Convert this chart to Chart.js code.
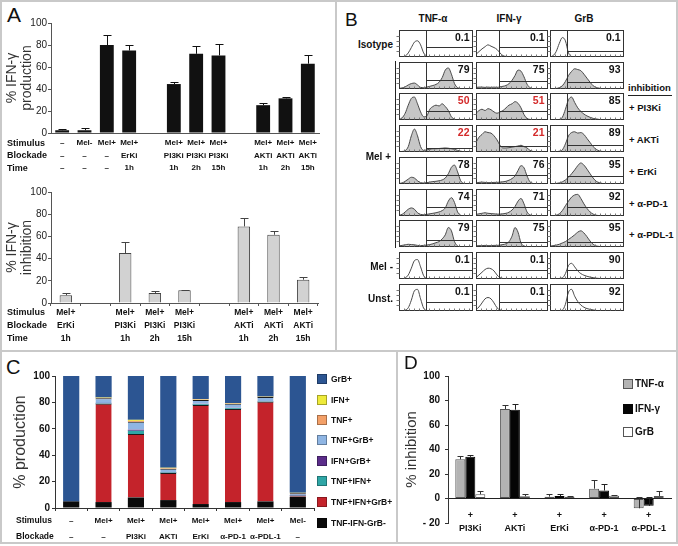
<!DOCTYPE html>
<html><head><meta charset="utf-8">
<script src="https://cdn.jsdelivr.net/npm/chart.js@4.4.1/dist/chart.umd.min.js"></script>
<style>
html,body{margin:0;padding:0;background:#fff}
#root{position:relative;width:678px;height:546px;overflow:hidden;font-family:"Liberation Sans",Arial,sans-serif;color:#111}
canvas{position:absolute}
.t{position:absolute;white-space:nowrap;line-height:1}
.ln{position:absolute}
.box{position:absolute;box-sizing:border-box}
</style></head><body><div id="root"></div>
<script>
// ================= DATA =================
// Panel A (top) – % IFN-γ production
const aTopStimulus = ['–','Mel-','Mel+','Mel+','','Mel+','Mel+','Mel+','','Mel+','Mel+','Mel+'];
const aTopBlockade = ['–','–','–','ErKi','','PI3Ki','PI3Ki','PI3Ki','','AKTi','AKTi','AKTi'];
const aTopTime     = ['–','–','–','1h','','1h','2h','15h','','1h','2h','15h'];
const aTopValues   = [2.5,2.5,80,75,null,44.5,72,70.5,null,25.3,31.5,63];
const aTopErrors   = [1.5,2,9,5,null,1.8,7,10.5,null,1.8,1.5,8];
// Panel A (bottom) – % IFN-γ inhibition
const aBotStimulus = ['Mel+','','Mel+','Mel+','Mel+','','Mel+','Mel+','Mel+'];
const aBotBlockade = ['ErKi','','PI3Ki','PI3Ki','PI3Ki','','AKTi','AKTi','AKTi'];
const aBotTime     = ['1h','','1h','2h','15h','','1h','2h','15h'];
const aBotValues   = [7,null,45,9,11.4,null,69,61.5,21];
const aBotErrors   = [1.8,null,10,1.5,0.6,null,8,3.5,2];

// Panel B – flow histograms (rows x [TNF-α, IFN-γ, GrB])
const bColumns = ['TNF-α','IFN-γ','GrB'];
const bRowLabels = ['Isotype','','','','','','','Mel -','Unst.'];
const bInhibitors = ['+ PI3Ki','+ AKTi','+ ErKi','+ α-PD-1','+ α-PDL-1'];
const bPercent = [
 ['0.1','0.1','0.1'],['79','75','93'],['50','51','85'],['22','21','89'],['78','76','95'],
 ['74','71','92'],['79','75','95'],['0.1','0.1','90'],['0.1','0.1','92']];
const bGates = [0.36,0.32,0.23];
const bLevels = [[0.37,0.37,0.22],[0.32,0.28,0.26],[0.34,0.34,0.34],[0.15,0.21,0.27],[0.35,0.35,0.3],
 [0.35,0.32,0.32],[0.27,0.2,0.2],[0.33,0.33,0.33],[0.33,0.33,0.33]];
const bBins = ['0','1','2','3','4','5','6','7','8','9','10','11','12','13','14','15','16','17','18','19','20','21','22','23','24'];
const bHist = [
 [[0,0,0.03,0.15,0.35,0.55,0.6,0.45,0.15,0.03,0,0,0,0,0,0,0,0,0,0,0,0,0,0,0],
  [0.1,0.2,0.3,0.38,0.45,0.4,0.35,0.28,0.15,0.05,0.02,0,0,0,0,0,0,0,0,0,0,0,0,0,0],
  [0,0.05,0.2,0.5,0.72,0.6,0.15,0.02,0,0,0,0,0,0,0,0,0,0,0,0,0,0,0,0,0]],
 [[0.02,0.04,0.08,0.15,0.2,0.22,0.15,0.06,0.05,0.07,0.1,0.13,0.17,0.25,0.42,0.7,0.78,0.55,0.2,0.05,0.01,0,0,0,0],
  [0.06,0.07,0.07,0.06,0.07,0.06,0.07,0.06,0.08,0.1,0.13,0.2,0.32,0.5,0.7,0.66,0.45,0.18,0.05,0.01,0,0,0,0,0],
  [0,0.01,0.02,0.05,0.12,0.28,0.5,0.65,0.75,0.72,0.68,0.55,0.4,0.25,0.12,0.06,0.03,0.01,0,0,0,0,0,0,0]],
 [[0.02,0.08,0.25,0.55,0.8,0.85,0.6,0.3,0.12,0.15,0.4,0.5,0.55,0.52,0.6,0.5,0.35,0.12,0.03,0,0,0,0,0,0],
  [0.25,0.35,0.4,0.35,0.42,0.38,0.3,0.25,0.3,0.35,0.45,0.55,0.6,0.68,0.62,0.45,0.2,0.06,0.02,0,0,0,0,0,0],
  [0,0,0,0.02,0.1,0.4,0.75,0.85,0.65,0.45,0.32,0.22,0.15,0.1,0.06,0.04,0.02,0.01,0,0,0,0,0,0,0]],
 [[0.01,0.02,0.05,0.2,0.6,0.85,0.6,0.2,0.06,0.08,0.1,0.12,0.12,0.13,0.14,0.15,0.14,0.12,0.1,0.06,0.03,0.01,0,0,0],
  [0.35,0.55,0.65,0.75,0.72,0.7,0.6,0.45,0.25,0.15,0.15,0.16,0.18,0.2,0.22,0.25,0.2,0.15,0.06,0.02,0,0,0,0,0],
  [0,0,0.01,0.03,0.08,0.3,0.6,0.72,0.75,0.7,0.72,0.65,0.5,0.35,0.2,0.1,0.04,0.02,0.01,0,0,0,0,0,0]],
 [[0.02,0.04,0.1,0.18,0.25,0.22,0.12,0.05,0.04,0.05,0.07,0.09,0.1,0.12,0.15,0.22,0.38,0.62,0.7,0.45,0.12,0.02,0,0,0],
  [0.04,0.06,0.07,0.06,0.05,0.05,0.06,0.06,0.07,0.08,0.1,0.14,0.2,0.3,0.5,0.68,0.6,0.3,0.08,0.02,0,0,0,0,0],
  [0,0.01,0.02,0.04,0.08,0.15,0.25,0.38,0.52,0.68,0.78,0.7,0.55,0.38,0.22,0.1,0.05,0.02,0.01,0,0,0,0,0,0]],
 [[0.03,0.06,0.15,0.25,0.3,0.25,0.12,0.06,0.05,0.06,0.08,0.1,0.12,0.15,0.2,0.3,0.55,0.68,0.5,0.15,0.03,0,0,0,0],
  [0.06,0.08,0.1,0.12,0.1,0.09,0.08,0.07,0.07,0.08,0.1,0.14,0.22,0.35,0.55,0.65,0.45,0.15,0.04,0.01,0,0,0,0,0],
  [0,0.01,0.03,0.08,0.2,0.38,0.55,0.7,0.78,0.8,0.65,0.45,0.28,0.15,0.07,0.03,0.01,0,0,0,0,0,0,0,0]],
 [[0.04,0.06,0.08,0.1,0.09,0.08,0.06,0.05,0.06,0.07,0.09,0.12,0.16,0.2,0.3,0.45,0.72,0.6,0.2,0.04,0,0,0,0,0],
  [0.04,0.05,0.05,0.06,0.05,0.05,0.06,0.06,0.07,0.09,0.12,0.2,0.4,0.72,0.55,0.15,0.04,0.01,0,0,0,0,0,0,0],
  [0.03,0.05,0.07,0.1,0.15,0.2,0.28,0.36,0.45,0.55,0.6,0.52,0.38,0.22,0.1,0.04,0.02,0,0,0,0,0,0,0,0]],
 [[0,0.01,0.04,0.15,0.4,0.68,0.72,0.45,0.12,0.02,0,0,0,0,0,0,0,0,0,0,0,0,0,0,0],
  [0.05,0.15,0.25,0.35,0.4,0.38,0.3,0.15,0.05,0.02,0,0,0,0,0,0,0,0,0,0,0,0,0,0,0],
  [0,0,0.01,0.02,0.04,0.2,0.5,0.58,0.45,0.3,0.2,0.14,0.1,0.07,0.05,0.03,0.02,0.01,0,0,0,0,0,0,0]],
 [[0,0.01,0.03,0.12,0.4,0.75,0.8,0.45,0.1,0.02,0,0,0,0,0,0,0,0,0,0,0,0,0,0,0],
  [0.05,0.15,0.3,0.45,0.5,0.45,0.3,0.12,0.04,0.01,0,0,0,0,0,0,0,0,0,0,0,0,0,0,0],
  [0,0,0,0.01,0.03,0.25,0.7,0.8,0.55,0.35,0.22,0.14,0.09,0.06,0.04,0.02,0.01,0,0,0,0,0,0,0,0]]];
const bFilledRows = [1,2,3,4,5,6];
const bRedCells = ['2-0','2-1','3-0','3-1'];

// Panel C – % production (stacked)
const cStimulus = ['–','Mel+','Mel+','Mel+','Mel+','Mel+','Mel+','Mel-'];
const cBlockade = ['–','–','PI3Ki','AKTi','ErKi','α-PD-1','α-PDL-1','–'];
const cNeg     = [5,4.5,8,6,3,4.5,5,8.5];          // TNF-IFN-GrB-
const cTriple  = [0,74.5,48,20.5,75,70.5,75.5,0.7]; // TNF+IFN+GrB+
const cTnfIfn  = [0,0.3,2.5,0.4,0.6,0.6,0.3,0.2];   // TNF+IFN+
const cIfnGrb  = [0,0.3,0.8,0.3,0.3,0.3,0.2,0.5];   // IFN+GrB+
const cTnfGrb  = [0,3.5,6,2.5,3,3,3,1.2];           // TNF+GrB+
const cTnf     = [0,0.3,0.7,0.4,0.3,0.3,0.2,0.2];   // TNF+
const cIfn     = [0,0.3,0.8,0.4,0.3,0.3,0.2,0.2];   // IFN+
const cGrb     = [95,16.3,33.2,69.5,17.5,20.5,15.6,88.5]; // GrB+

// Panel D – % inhibition
const dPlus = ['+','+','+','+','+'];
const dInhibitor = ['PI3Ki','AKTi','ErKi','α-PD-1','α-PDL-1'];
const dTnf = [32,73,1.5,8,-8];       const dTnfErr = [2.5,3.5,2.5,7.5,9.5];
const dIfn = [34,72.5,2,6.5,-6];     const dIfnErr = [1.5,5,1.3,5.5,7.5];
const dGrb = [3.5,1.8,1.5,2.2,2];    const dGrbErr = [3,1.5,0.5,0.5,4];

// ================= SETUP =================
const FONT='"Liberation Sans", Arial, sans-serif';
Chart.defaults.font.family=FONT;
Chart.defaults.color='#111';
Chart.defaults.animation=false;
Chart.defaults.responsive=false;
Chart.defaults.devicePixelRatio=1;
Chart.defaults.plugins.legend.display=false;
Chart.defaults.plugins.tooltip.enabled=false;

const root=document.getElementById('root');
function mkCanvas(x,y,w,h){const c=document.createElement('canvas');c.width=w;c.height=h;
 Object.assign(c.style,{left:x+'px',top:y+'px',width:w+'px',height:h+'px'});root.appendChild(c);return c;}
function rect(x,y,w,h,color){const d=document.createElement('div');d.className='ln';
 Object.assign(d.style,{left:x+'px',top:y+'px',width:w+'px',height:h+'px',background:color||'#c9c9c9'});root.appendChild(d);return d;}
function txt(x,y,s,o={}){const d=document.createElement('div');d.className='t';d.textContent=s;
 const al=o.align||'left';
 Object.assign(d.style,{left:x+'px',top:y+'px',fontSize:(o.size||10)+'px',fontWeight:o.weight||'bold',color:o.color||'#111',
  transform:`translate(${al==='left'?'0':al==='right'?'-100%':'-50%'},-50%)`});root.appendChild(d);return d;}

const errorBars={id:'errorBars',afterDatasetsDraw(chart,args,o){
 const ctx=chart.ctx;
 chart.data.datasets.forEach((ds,di)=>{
  if(!ds.errors)return;
  const meta=chart.getDatasetMeta(di); const ys=chart.scales[meta.yAxisID];
  meta.data.forEach((bar,i)=>{
   const v=ds.data[i],e=ds.errors[i]; if(v==null||e==null)return;
   const x=Math.round(bar.x)+0.5, y0=ys.getPixelForValue(v), y1=Math.round(ys.getPixelForValue(v+e))+0.5;
   const cw=o.cap||3;
   ctx.save();ctx.strokeStyle=ds.errorColor||'#111';ctx.lineWidth=1;ctx.beginPath();
   ctx.moveTo(x,y0);ctx.lineTo(x,y1);ctx.moveTo(x-cw,y1);ctx.lineTo(x+cw,y1);ctx.stroke();ctx.restore();
  });
 });
}};
const rowLabels={id:'rowLabels',afterDraw(chart,args,o){
 if(!o.rows)return;
 const xs=chart.scales.x,g=xs.options.grid,t=xs.options.ticks;
 const y0=xs.top+(g.drawTicks?g.tickLength:0)+t.padding;
 const ctx=chart.ctx;ctx.save();ctx.font=`bold ${o.size}px ${FONT}`;ctx.fillStyle='#111';
 ctx.textAlign='left';ctx.textBaseline='middle';
 o.rows.forEach((r,i)=>ctx.fillText(r,o.x,y0+o.lh*(i+0.5)));ctx.restore();
}};

// ================= FRAMES =================
rect(0,0,678,2);rect(0,542,678,2);rect(0,0,2,544);rect(676,0,2,544);
rect(335,0,2,351);rect(0,350,678,2);rect(396,351,2,193);

// ================= PANEL A =================
txt(7,14,'A',{size:21,weight:'normal'});
function aYAxis(title,w){return {min:0,max:100,ticks:{stepSize:10,font:{size:10},padding:1,color:'#222'},
 grid:{drawOnChartArea:false,tickLength:3,color:'#555'},border:{color:'#555'},
 title:{display:true,text:title,font:{size:14,lineHeight:'15px'},padding:{top:5,bottom:0},color:'#333'},
 afterFit:s=>{s.width=w;}};}

new Chart(mkCanvas(0,0,335,185),{type:'bar',
 data:{labels:aTopStimulus.map((s,i)=>[s,aTopBlockade[i],aTopTime[i]]),
  datasets:[{data:aTopValues,errors:aTopErrors,errorColor:'#111',backgroundColor:'#111',barPercentage:0.62,categoryPercentage:1}]},
 options:{layout:{padding:{top:23,right:16,left:0,bottom:0}},
  plugins:{errorBars:{cap:4},rowLabels:{rows:['Stimulus','Blockade','Time'],x:7,lh:12.5,size:9}},
  scales:{x:{grid:{display:false,drawTicks:false},border:{color:'#555'},
    ticks:{font:{size:8,weight:'bold',lineHeight:'12.5px'},padding:4,maxRotation:0,autoSkip:false},afterFit:s=>{s.height=52;}},
   y:aYAxis(['% IFN-γ','production'],51)}},
 plugins:[errorBars,rowLabels]});

new Chart(mkCanvas(0,176,335,174),{type:'bar',
 data:{labels:aBotStimulus.map((s,i)=>[s,aBotBlockade[i],aBotTime[i]]),
  datasets:[{data:aBotValues,errors:aBotErrors,errorColor:'#444',backgroundColor:'#d2d2d2',borderColor:'#444',borderWidth:1,barPercentage:0.42,categoryPercentage:1}]},
 options:{layout:{padding:{top:16,right:17,left:0,bottom:0}},
  plugins:{errorBars:{cap:4},rowLabels:{rows:['Stimulus','Blockade','Time'],x:7,lh:13,size:9}},
  scales:{x:{grid:{drawOnChartArea:false,tickLength:3,color:'#555',offset:true},border:{color:'#555'},
    ticks:{font:{size:8.5,weight:'bold',lineHeight:'13px'},padding:0,maxRotation:0,autoSkip:false},afterFit:s=>{s.height=47;}},
   y:aYAxis(['% IFN-γ','inhibition'],51)}},
 plugins:[errorBars,rowLabels]});

// ================= PANEL B =================
txt(345,19,'B',{size:19,weight:'normal'});
const colL=[399,476,550], colW=[74,72,74];
const rowTop=r=>Math.round(30+31.7*r), rowH=27;
bColumns.forEach((c,i)=>txt(colL[i]+colW[i]/2-3,19,c,{size:10,align:'center'}));
bRowLabels.forEach((s,r)=>{if(s)txt(393,rowTop(r)+rowH/2+1,s,{size:10,align:'right'});});
txt(391,157,'Mel +',{size:10,align:'right'});
rect(395,61,1,187,'#222');
txt(628,88,'inhibition',{size:9.5});rect(628,95,44,1,'#222');
bInhibitors.forEach((s,i)=>txt(629,rowTop(i+2)+rowH/2+1,s,{size:9.5}));

const cellDecor={id:'cellDecor',afterDatasetsDraw(chart,args,o){
 const {ctx,chartArea:a,scales:{x,y}}=chart;
 ctx.save();ctx.strokeStyle='#333';ctx.lineWidth=1;
 const L=Math.round(a.left)+0.5,T=Math.round(a.top)+0.5,R=Math.round(a.right)-0.5,B=Math.round(a.bottom)-0.5;
 ctx.strokeRect(L,T,R-L,B-T);
 ctx.beginPath();
 const gx=Math.round(x.getPixelForValue(o.gate))+0.5;ctx.moveTo(gx,T);ctx.lineTo(gx,B);
 const hy=Math.round(y.getPixelForValue(o.level))+0.5;ctx.moveTo(gx,hy);ctx.lineTo(R,hy);ctx.stroke();
 ctx.beginPath();ctx.strokeStyle='#777';
 for(let k=1;k<5;k++){const ty=Math.round(T+(B-T)*k/5)+0.5;ctx.moveTo(L-3,ty);ctx.lineTo(L,ty);}
 for(let px=L+4;px<R-2;px+=5){ctx.moveTo(Math.round(px)+0.5,B);ctx.lineTo(Math.round(px)+0.5,B-2);}
 ctx.stroke();
 ctx.font=`bold 10.5px ${FONT}`;ctx.fillStyle=o.color;ctx.textAlign='right';ctx.textBaseline='middle';
 ctx.fillText(o.label,R-3,T+7.5);
 ctx.restore();
}};
bHist.forEach((row,r)=>row.forEach((vals,c)=>{
 const filled=bFilledRows.includes(r);
 new Chart(mkCanvas(colL[c]-4,rowTop(r)-1,colW[c]+5,rowH+2),{type:'line',
  data:{labels:bBins,datasets:[{data:vals,borderColor:'#4a4a4a',borderWidth:1,pointRadius:0,
   cubicInterpolationMode:'monotone',fill:filled?'origin':false,backgroundColor:'#c6c6c6'}]},
  options:{layout:{padding:{left:4,top:1,right:1,bottom:1}},
   plugins:{cellDecor:{gate:bGates[c]*(bBins.length-1),level:bLevels[r][c],label:bPercent[r][c],
    color:bRedCells.includes(r+'-'+c)?'#d42a2a':'#111'}},
   scales:{x:{display:false},y:{display:false,min:0,max:1}}},
  plugins:[cellDecor]});
}));

// ================= PANEL C =================
txt(6,367,'C',{size:20,weight:'normal'});
const cChart=new Chart(mkCanvas(0,352,397,190),{type:'bar',
 data:{labels:cStimulus.map((s,i)=>[s,cBlockade[i]]),
  datasets:[
   {label:'TNF-IFN-GrB-',data:cNeg,backgroundColor:'#0a0a0a'},
   {label:'TNF+IFN+GrB+',data:cTriple,backgroundColor:'#c4232b',borderColor:'#1a1a1a',borderWidth:{top:1,bottom:0,left:0,right:0}},
   {label:'TNF+IFN+',data:cTnfIfn,backgroundColor:'#2fa6a6'},
   {label:'IFN+GrB+',data:cIfnGrb,backgroundColor:'#5b2d8a'},
   {label:'TNF+GrB+',data:cTnfGrb,backgroundColor:'#8fb5e3',borderColor:'#1a1a1a',borderWidth:{top:1,bottom:0,left:0,right:0}},
   {label:'TNF+',data:cTnf,backgroundColor:'#f3a068'},
   {label:'IFN+',data:cIfn,backgroundColor:'#eeea3a'},
   {label:'GrB+',data:cGrb,backgroundColor:'#2c5592'}]},
 options:{layout:{padding:{top:24,right:83,left:0,bottom:0}},
  datasets:{bar:{barPercentage:0.5,categoryPercentage:1,borderSkipped:false}},
  plugins:{rowLabels:{rows:['Stimulus','Blockade'],x:16,lh:16,size:8.5}},
  scales:{x:{stacked:true,grid:{drawOnChartArea:false,tickLength:3,color:'#333',offset:true},border:{color:'#333'},
    ticks:{font:{size:8,weight:'bold',lineHeight:'16px'},padding:2,maxRotation:0,autoSkip:false},afterFit:s=>{s.height=34;}},
   y:{stacked:true,min:0,max:100,ticks:{stepSize:20,font:{size:10,weight:'bold'},padding:2},
    grid:{drawOnChartArea:false,tickLength:3,color:'#333'},border:{color:'#333'},
    title:{display:true,text:'% production',font:{size:16},padding:{top:11,bottom:0},color:'#333'},
    afterFit:s=>{s.width=55;}}}},
 plugins:[rowLabels]});
const cLegendY=[379,400,420,440,461,481,502,523];
cChart.data.datasets.slice().reverse().forEach((ds,i)=>{
 const b=document.createElement('div');b.className='box';
 Object.assign(b.style,{left:'317px',top:(cLegendY[i]-5)+'px',width:'10px',height:'10px',background:ds.backgroundColor,border:'1px solid rgba(0,0,0,0.3)'});
 root.appendChild(b);txt(331,cLegendY[i],ds.label,{size:8.5});
});

// ================= PANEL D =================
txt(404,362,'D',{size:19,weight:'normal'});
const dChart=new Chart(mkCanvas(397,352,281,190),{type:'bar',
 data:{labels:dPlus.map((p,i)=>[p,dInhibitor[i]]),
  datasets:[
   {label:'TNF-α',data:dTnf,errors:dTnfErr,errorColor:'#333',backgroundColor:'#b3b3b3',borderColor:'#555',borderWidth:1},
   {label:'IFN-γ',data:dIfn,errors:dIfnErr,errorColor:'#222',backgroundColor:'#050505',borderColor:'#050505',borderWidth:1},
   {label:'GrB',data:dGrb,errors:dGrbErr,errorColor:'#333',backgroundColor:'#ffffff',borderColor:'#555',borderWidth:1}]},
 options:{layout:{padding:{top:24,right:7,left:0,bottom:19}},
  datasets:{bar:{categoryPercentage:0.673,barPercentage:1,borderSkipped:false}},
  plugins:{errorBars:{cap:3}},
  scales:{x:{position:{y:0},grid:{display:false,drawTicks:false},border:{color:'#222'},
    ticks:{font:{size:9,weight:'bold',lineHeight:'13px'},padding:11,maxRotation:0,autoSkip:false}},
   y:{min:-20,max:100,ticks:{stepSize:20,font:{size:10,weight:'bold'},padding:5,callback:v=>v<0?'- '+(-v):v},
    grid:{drawOnChartArea:false,tickLength:3,color:'#333'},border:{color:'#333'},
    title:{display:true,text:'% inhibition',font:{size:15},padding:{top:6,bottom:0},color:'#333'},
    afterFit:s=>{s.width=51;}}}},
 plugins:[errorBars]});
const dLegendY=[384,409,432];
dChart.data.datasets.forEach((ds,i)=>{
 const b=document.createElement('div');b.className='box';
 Object.assign(b.style,{left:'623px',top:(dLegendY[i]-5)+'px',width:'10px',height:'10px',background:ds.backgroundColor,border:'1px solid '+ds.borderColor});
 root.appendChild(b);txt(635,dLegendY[i],ds.label,{size:10});
});
</script></body></html>
